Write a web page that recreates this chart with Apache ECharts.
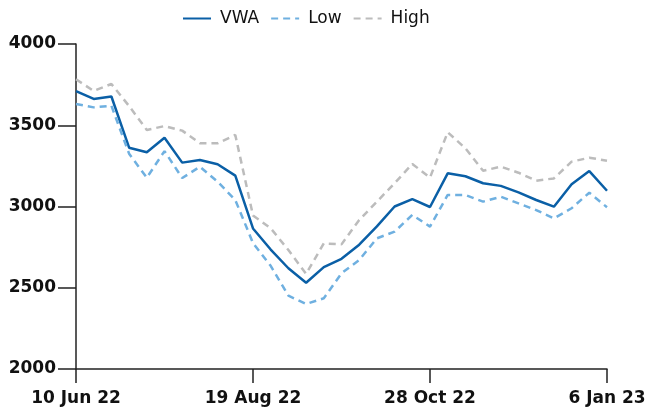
<!DOCTYPE html>
<html>
<head>
<meta charset="utf-8">
<script src="https://cdn.jsdelivr.net/npm/echarts@6/dist/echarts.min.js"></script>
<style>
  html, body { margin: 0; padding: 0; background: #fff; }
  #main { width: 650px; height: 415px; }
</style>
</head>
<body>
<div id="main"></div>
<script>
// weekly dates
var weeks = ['10 Jun 22', '17 Jun 22', '24 Jun 22', '1 Jul 22', '8 Jul 22', '15 Jul 22', '22 Jul 22',
  '29 Jul 22', '5 Aug 22', '12 Aug 22', '19 Aug 22', '26 Aug 22', '2 Sep 22', '9 Sep 22', '16 Sep 22',
  '23 Sep 22', '30 Sep 22', '7 Oct 22', '14 Oct 22', '21 Oct 22', '28 Oct 22', '4 Nov 22', '11 Nov 22',
  '18 Nov 22', '25 Nov 22', '2 Dec 22', '9 Dec 22', '16 Dec 22', '23 Dec 22', '30 Dec 22', '6 Jan 23'];

var vwa = [3710, 3662, 3677, 3362, 3334, 3423, 3270, 3286, 3260, 3190,
  2865, 2735, 2620, 2531, 2627, 2678, 2765, 2878, 3000, 3045,
  2997, 3204, 3186, 3143, 3127, 3087, 3040, 2999, 3137, 3218, 3097];

var low = [3631, 3610, 3620, 3325, 3177, 3341, 3175, 3245, 3153, 3040,
  2775, 2635, 2451, 2400, 2435, 2589, 2671, 2804, 2845, 2948,
  2876, 3071, 3071, 3030, 3060, 3019, 2978, 2927, 2989, 3085, 2995];

var high = [3783, 3711, 3754, 3618, 3471, 3495, 3467, 3389, 3389, 3440,
  2945, 2866, 2732, 2585, 2773, 2767, 2917, 3030, 3143, 3262,
  3178, 3457, 3358, 3220, 3245, 3208, 3159, 3173, 3276, 3300, 3282];

var yTicks = { min: 2000, max: 4000, step: 500 };

var myChart = echarts.init(document.getElementById('main'));
var labelFont = { fontFamily: 'DejaVu Sans', fontWeight: 'bold', fontSize: 17, color: '#111' };

var option = {
  animation: false,
  legend: {
    top: 5,
    left: 177,
    itemWidth: 28,
    itemHeight: 14,
    itemGap: 11,
    itemStyle: { opacity: 0 },
    textStyle: { fontFamily: 'DejaVu Sans', fontSize: 17, color: '#111', padding: [0, 0, 0, 4] },
    data: ['VWA', 'Low', 'High']
  },
  grid: { left: 76, right: 43, top: 44, bottom: 46 },
  xAxis: {
    type: 'category',
    boundaryGap: false,
    data: weeks,
    axisLine: { lineStyle: { color: '#222', width: 1.5 } },
    axisTick: { interval: 9, length: 14, lineStyle: { color: '#222', width: 1.5 } },
    axisLabel: Object.assign({ interval: 9, margin: 21 }, labelFont),
    splitLine: { show: false }
  },
  yAxis: {
    type: 'value',
    min: yTicks.min,
    max: yTicks.max,
    interval: yTicks.step,
    axisLine: { show: true, lineStyle: { color: '#222', width: 1.5 } },
    axisTick: { show: true, length: 18, lineStyle: { color: '#222', width: 1.5 } },
    axisLabel: Object.assign({ margin: 20, formatter: function (v) { return String(v); } }, labelFont),
    splitLine: { show: false }
  },
  series: [
    {
      name: 'VWA', type: 'line', data: vwa, symbol: 'none',
      lineStyle: { color: '#0a5fa6', width: 2.5 }, itemStyle: { color: '#0a5fa6' }
    },
    {
      name: 'Low', type: 'line', data: low, symbol: 'none',
      lineStyle: { color: '#6fb0e0', width: 2.5, type: [7, 5] }, itemStyle: { color: '#6fb0e0' }
    },
    {
      name: 'High', type: 'line', data: high, symbol: 'none',
      lineStyle: { color: '#bcbcbc', width: 2.5, type: [7, 5] }, itemStyle: { color: '#bcbcbc' }
    }
  ]
};
option && myChart.setOption(option);
</script>
</body>
</html>
